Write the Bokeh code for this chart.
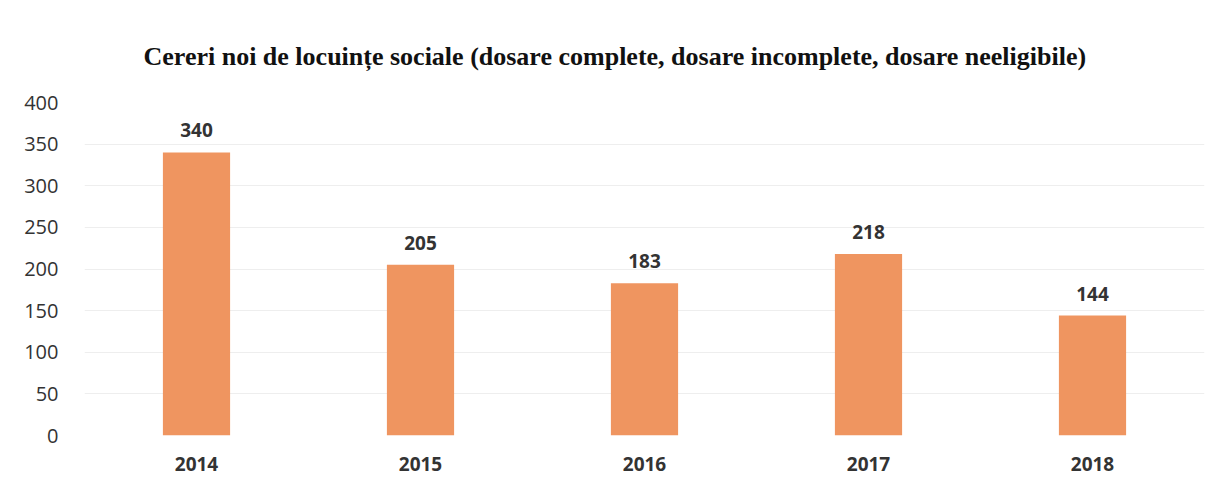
from bokeh.plotting import figure
from bokeh.models import ColumnDataSource, LabelSet, Range1d, FixedTicker
from bokeh.core.properties import value
from bokeh.embed import file_html
from bokeh.resources import INLINE

years = ["2014", "2015", "2016", "2017", "2018"]
cereri = [340, 205, 183, 218, 144]
y_ticks = [0, 50, 100, 150, 200, 250, 300, 350, 400]
title_text = "Cereri noi de locuințe sociale (dosare complete, dosare incomplete, dosare neeligibile)"

src = ColumnDataSource(dict(x=years, y=cereri, lbl=[str(v) for v in cereri]))

p = figure(x_range=years, y_range=Range1d(0, 400), width=1205, height=481,
           output_backend="svg", toolbar_location=None,
           min_border_left=84, min_border_right=1, min_border_top=102, min_border_bottom=46)

p.title.text = title_text
p.title.align = "left"
p.title.offset = 59
p.title.text_font = "Liberation Serif"
p.title.text_font_style = "bold"
p.title.text_font_size = "26px"
p.title.text_color = "#111111"
p.title.standoff = 63

p.vbar(x="x", top="y", width=0.3, source=src, fill_color="#EF9560", line_color=None)

labels = LabelSet(x="x", y="y", text="lbl", source=src, text_align="center",
                  text_baseline="bottom", y_offset=15, text_font=value("Open Sans"),
                  text_font_style="bold", text_font_size="19px", text_color="#333333")
p.add_layout(labels)

p.outline_line_color = None
p.xgrid.grid_line_color = None
p.ygrid.grid_line_color = "#eeeeee"
p.ygrid.grid_line_width = 1
p.yaxis.ticker = FixedTicker(ticks=y_ticks)
for ax in (p.xaxis, p.yaxis):
    ax.axis_line_color = None
    ax.major_tick_line_color = None
    ax.minor_tick_line_color = None
p.yaxis.major_label_text_font = "Open Sans"
p.yaxis.major_label_text_font_size = "20px"
p.yaxis.major_label_text_color = "#333333"
p.yaxis.major_label_standoff = 20
p.xaxis.major_label_text_font = "Open Sans"
p.xaxis.major_label_text_font_style = "bold"
p.xaxis.major_label_text_font_size = "19px"
p.xaxis.major_label_text_color = "#333333"
p.xaxis.major_label_standoff = 15
p.x_range.range_padding = 0

open("out.html", "w").write(file_html(p, INLINE))
